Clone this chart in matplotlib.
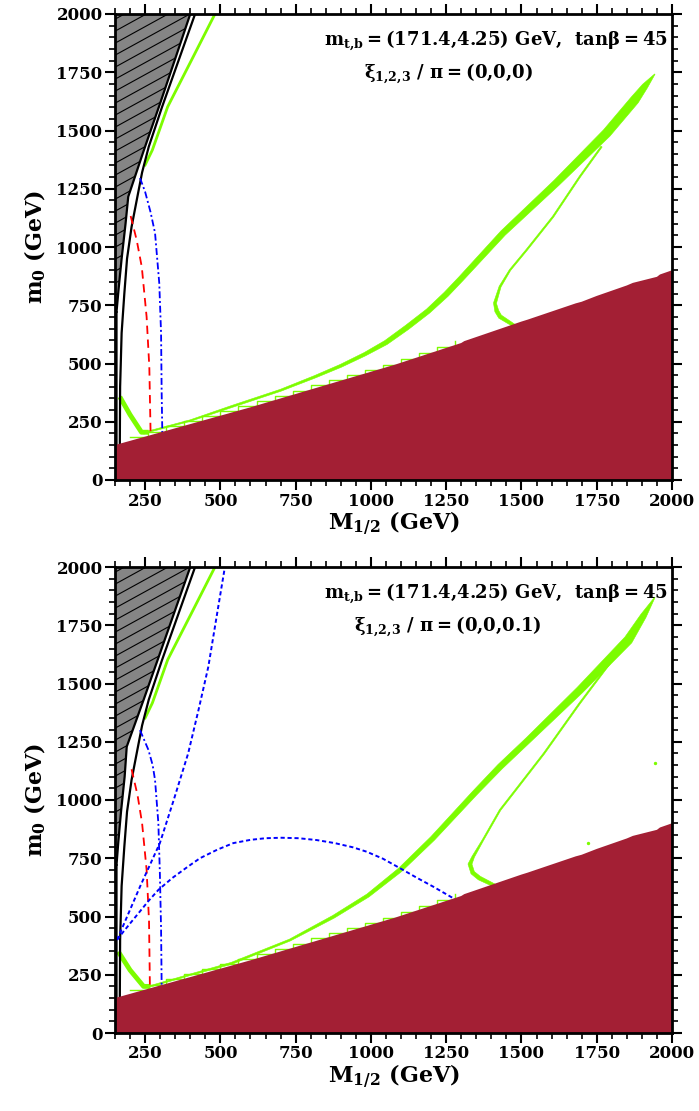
import numpy as np
import matplotlib.pyplot as plt
from matplotlib.patches import Polygon
from matplotlib.ticker import MultipleLocator

plt.rcParams['font.family'] = 'DejaVu Serif'
plt.rcParams['font.weight'] = 'bold'
plt.rcParams['axes.labelweight'] = 'bold'
plt.rcParams['mathtext.fontset'] = 'custom'
plt.rcParams['mathtext.rm'] = 'DejaVu Serif:bold'
plt.rcParams['mathtext.it'] = 'DejaVu Serif:bold'
plt.rcParams['mathtext.bf'] = 'DejaVu Serif:bold'
plt.rcParams['lines.scale_dashes'] = False

# ---- data (M_1/2, m_0 in GeV) ----
x_ticks = [250, 500, 750, 1000, 1250, 1500, 1750, 2000]
y_ticks = [0, 250, 500, 750, 1000, 1250, 1500, 1750, 2000]

# stau LSP region (dark red), same in both panels
lsp_x = [150, 150, 600, 1080, 1300, 1310, 1500, 1520, 1680, 1700, 1750, 1850, 1870, 1950, 1960, 2000, 2000]
lsp_y = [0, 150, 312, 495, 588, 596, 680, 688, 758, 765, 790, 835, 846, 872, 882, 900, 0]

# excluded (hatched) region edge, top to bottom, ends at m0 = 721
excl_top_x = [400, 350, 300, 246, 194, 185, 172, 162, 155]
excl_top_y = [2000, 1808, 1617, 1416, 1216, 1100, 950, 820, 721]
excl_bot_x = [400, 350, 300, 245, 189, 182, 170, 161, 155]
excl_bot_y = [2000, 1816, 1632, 1430, 1229, 1100, 950, 820, 721]

# second black contour
black_x = [416, 361, 306, 262, 240, 222, 205, 190, 181, 172, 167, 166]
black_y = [2000, 1800, 1600, 1430, 1320, 1200, 1086, 950, 800, 631, 400, 150]

# red dashed contour
red_top_x = [202, 222, 239, 255, 264, 268, 269]
red_top_y = [1133, 1030, 914, 700, 485, 215, 140]
red_bot_x = [205, 225, 240, 255, 263, 266, 267]
red_bot_y = [1132, 1020, 900, 700, 480, 193, 140]

# blue dash-dot contour
bdd_top_x = [233, 250, 268, 283, 297, 303, 305, 307, 307]
bdd_top_y = [1296, 1237, 1150, 1060, 845, 631, 373, 215, 140]
bdd_bot_x = [233, 261, 275, 283, 294, 299, 303, 305, 305]
bdd_bot_y = [1300, 1215, 1150, 1086, 901, 687, 450, 199, 140]

# blue dashed contours (bottom panel only)
bda_x = [157, 233, 299, 345, 393, 428, 460, 493, 515]
bda_y = [400, 628, 815, 1000, 1200, 1390, 1572, 1830, 2000]
bdb_x = [157, 175, 200, 233, 260, 294, 340, 390, 432, 490, 543, 600, 650, 703,
         760, 820, 880, 940, 986, 1040, 1097, 1150, 1207, 1274, 1300]
bdb_y = [400, 430, 470, 522, 565, 614, 665, 712, 750, 787, 815, 829, 836, 838,
         836, 828, 815, 797, 778, 748, 707, 668, 628, 578, 560]

# green relic density strips
up_x = [250, 274, 325, 410, 482]
up_y = [1352, 1416, 1602, 1817, 2000]
corner_top_x = [166, 200, 238, 262]
corner_top_y = [357, 280, 205, 205]
corner_bot_x = [161, 200, 245, 268]
corner_bot_y = [349, 270, 200, 200]

strip_top_x = [245, 260, 400, 537, 700, 814, 900, 980, 1050, 1120, 1190, 1250, 1300,
               1439, 1616, 1783, 1876, 1910, 1943]
strip_top_y = [200, 207, 255, 315, 385, 443, 490, 540, 590, 655, 725, 797, 865,
               1060, 1275, 1489, 1631, 1690, 1742]
strip_top_w = [1.5, 1.5, 1.5, 2, 2, 2.5, 3, 3.5, 4.5, 5, 5, 5.5, 5.5,
               6, 7, 9, 9, 6, 0.5]
strip_bot_x = [255, 272, 400, 537, 731, 876, 990, 1097, 1205, 1345, 1429, 1523, 1694,
               1855, 1905, 1943]
strip_bot_y = [200, 202, 250, 299, 399, 499, 590, 700, 835, 1030, 1143, 1258, 1472,
               1687, 1790, 1870]
strip_bot_w = [1.5, 1.5, 1.5, 2, 2, 3, 3.5, 4.5, 5, 5.5, 6, 6, 7.5,
               9, 6, 0.5]

funnel_top_x = [1766, 1694, 1605, 1517, 1462, 1429, 1412, 1418, 1429, 1473, 1490]
funnel_top_y = [1431, 1302, 1130, 987, 901, 830, 759, 725, 701, 665, 650]
funnel_top_w = [1.5, 1.5, 1.5, 1.5, 1.5, 2, 3, 4, 4, 3, 2.5]
funnel_bot_x = [1794, 1694, 1575, 1473, 1429, 1372, 1340, 1329, 1338, 1360, 1418, 1440]
funnel_bot_y = [1588, 1416, 1200, 1030, 957, 828, 757, 725, 688, 665, 628, 615]
funnel_bot_w = [1.5, 1.5, 1.5, 1.5, 1.5, 1.5, 2.5, 4, 4, 4, 3, 2.5]

# thin green step outlines just above the LSP boundary
step_x = [200, 260, 320, 380, 440, 500, 560, 620, 680, 740, 800, 860, 920, 980, 1040, 1100, 1160, 1220, 1280]
step_y = [185, 208, 230, 252, 274, 296, 318, 340, 362, 384, 406, 428, 450, 472, 494, 520, 546, 572, 598]

dots_bot_x = [1721, 1943]
dots_bot_y = [817, 1159]

BROWN = '#A31F34'
GREEN = '#7CFC00'
GRAY = '#858585'

fig = plt.figure(figsize=(6.99, 11.11), dpi=100)
ax_top = fig.add_axes([115 / 699, 1 - 480 / 1111, 557 / 699, 466 / 1111])
ax_bot = fig.add_axes([115 / 699, 1 - 1033 / 1111, 557 / 699, 466 / 1111])


def band(ax, xs, ys, ws):
    # green strip of given pixel width around a centre line
    pts = ax.transData.transform(np.column_stack([xs, ys]))
    d = np.gradient(pts, axis=0)
    n = np.column_stack([-d[:, 1], d[:, 0]])
    n /= np.hypot(n[:, 0], n[:, 1])[:, None]
    h = np.asarray(ws, dtype=float)[:, None] / 2
    poly = np.vstack([pts + n * h, (pts - n * h)[::-1]])
    poly = ax.transData.inverted().transform(poly)
    ax.add_patch(Polygon(poly, closed=True, fc=GREEN, ec=GREEN, lw=0.4, zorder=2))


def draw_panel(ax, p):
    ax.set_xlim(150, 2000)
    ax.set_ylim(0, 2000)

    # hatched excluded region
    ex = list(p['excl_x']) + [150, 150]
    ey = list(p['excl_y']) + [p['excl_y'][-1], 2000]
    hp = Polygon(np.column_stack([ex, ey]), closed=True, fc=GRAY, ec='none', zorder=1)
    ax.add_patch(hp)
    slope = 0.55 * 557 / 466
    for y0 in np.arange(-1.2, 1.05, 12 / 466):
        ln, = ax.plot([0, 1], [y0, y0 + slope], color='black', lw=0.8,
                      transform=ax.transAxes, zorder=1.5)
        ln.set_clip_path(hp)
    ax.plot(list(p['excl_x']) + [p['excl_x'][-1]], list(p['excl_y']) + [140],
            color='black', lw=1.6, zorder=3)
    ax.plot([150, p['excl_x'][-1]], [p['excl_y'][-1]] * 2, color='black', lw=1.2, zorder=3)
    ax.plot(black_x, black_y, color='black', lw=1.6, zorder=3)

    # green strips
    ax.plot(up_x, up_y, color=GREEN, lw=2.0, zorder=2)
    ax.plot(p['corner_x'], p['corner_y'], color=GREEN, lw=3.5, zorder=2, solid_capstyle='butt')
    band(ax, p['strip_x'], p['strip_y'], p['strip_w'])
    band(ax, p['funnel_x'], p['funnel_y'], p['funnel_w'])
    ax.step(step_x, step_y, where='post', color=GREEN, lw=1.0, zorder=2)

    # contours
    ax.plot(p['red_x'], p['red_y'], color='red', lw=1.3, dashes=(6, 4), zorder=3)
    ax.plot(p['bdd_x'], p['bdd_y'], color='blue', lw=1.3, dashes=(5, 2, 1.4, 2), zorder=3)

    # stau LSP region
    ax.fill(lsp_x, lsp_y, color=BROWN, lw=0, zorder=4)

    ax.xaxis.set_major_locator(plt.FixedLocator(x_ticks))
    ax.yaxis.set_major_locator(plt.FixedLocator(y_ticks))
    ax.xaxis.set_minor_locator(MultipleLocator(50))
    ax.yaxis.set_minor_locator(MultipleLocator(50))
    ax.tick_params(which='both', direction='out', top=True, right=True, labelsize=12, pad=2)
    ax.tick_params(which='major', length=7, width=1.5)
    ax.tick_params(which='minor', length=4, width=1.2)
    for s in ax.spines.values():
        s.set_linewidth(2)
        s.set_zorder(6)
    ax.set_xlabel(r'$\mathregular{M_{1/2}}$ (GeV)', fontsize=16, labelpad=0)
    ax.set_ylabel(r'$\mathregular{m_0}$ (GeV)', fontsize=16, labelpad=6)

    ax.text(0.993, 0.943, r'$\mathregular{m_{t{,}b} = (171.4{,}4.25)\ GeV{,}\ \ tan\beta = 45}$',
            transform=ax.transAxes, ha='right', va='center', fontsize=13, zorder=7)
    ax.text(0.598, 0.873, r'$\mathregular{\xi_{1{,}2{,}3}\ /\ \pi = (%s)}$' % p['xi'],
            transform=ax.transAxes, ha='center', va='center', fontsize=13, zorder=7)


top = dict(excl_x=excl_top_x, excl_y=excl_top_y, red_x=red_top_x, red_y=red_top_y,
           bdd_x=bdd_top_x, bdd_y=bdd_top_y, corner_x=corner_top_x, corner_y=corner_top_y,
           strip_x=strip_top_x, strip_y=strip_top_y, strip_w=strip_top_w,
           funnel_x=funnel_top_x, funnel_y=funnel_top_y, funnel_w=funnel_top_w,
           xi='0{,}0{,}0')
bot = dict(excl_x=excl_bot_x, excl_y=excl_bot_y, red_x=red_bot_x, red_y=red_bot_y,
           bdd_x=bdd_bot_x, bdd_y=bdd_bot_y, corner_x=corner_bot_x, corner_y=corner_bot_y,
           strip_x=strip_bot_x, strip_y=strip_bot_y, strip_w=strip_bot_w,
           funnel_x=funnel_bot_x, funnel_y=funnel_bot_y, funnel_w=funnel_bot_w,
           xi='0{,}0{,}0.1')

draw_panel(ax_top, top)
draw_panel(ax_bot, bot)

# extra blue dashed contours in the lower panel
ax_bot.plot(bda_x, bda_y, color='blue', lw=1.4, dashes=(3, 2), zorder=3)
ax_bot.plot(bdb_x, bdb_y, color='blue', lw=1.4, dashes=(3, 2), zorder=3)
ax_bot.scatter(dots_bot_x, dots_bot_y, s=2, color=GREEN, zorder=2)

fig.savefig('out.png', dpi=100)
